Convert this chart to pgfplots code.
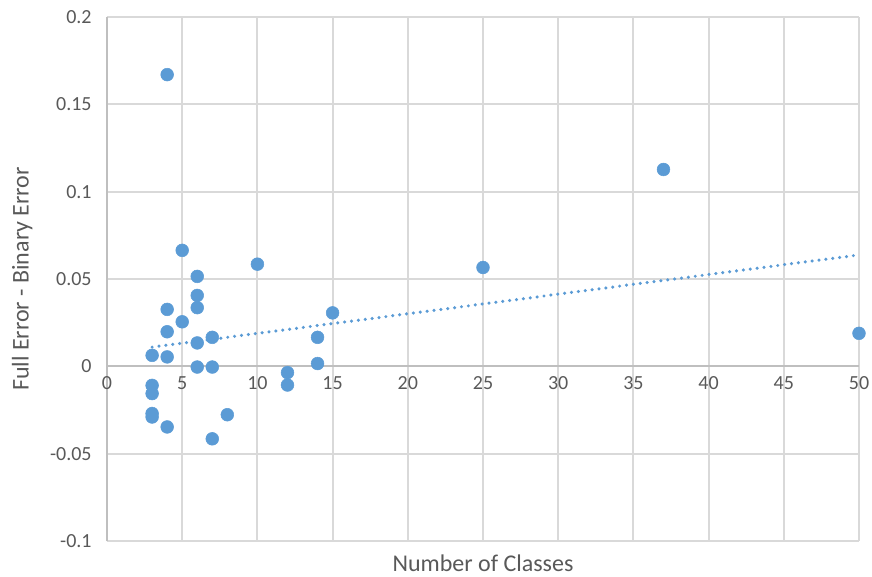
\documentclass[border=0pt]{standalone}
\usepackage{pgfplots}
\pgfplotsset{compat=1.18}
\usepackage{fontspec}
\setmainfont{Carlito}
\definecolor{mk}{HTML}{5B9BD5}
\definecolor{gr}{HTML}{D9D9D9}
\definecolor{ax}{HTML}{BFBFBF}
\definecolor{tx}{HTML}{595959}
\begin{document}
\begin{tikzpicture}
\begin{axis}[
  scale only axis, width=564pt, height=393pt,
  xmin=0, xmax=50, ymin=-0.1, ymax=0.2,
  xtick={0,5,...,50},
  ytick={-0.1,-0.05,0,0.05,0.1,0.15,0.2},
  yticklabels={-0.1,-0.05,0,0.05,0.1,0.15,0.2},
  xticklabels={0,5,10,15,20,25,30,35,40,45,50},
  scaled y ticks=false,
  axis x line=middle, axis y line=left,
  hide obscured x ticks=false, hide obscured y ticks=false,
  axis line style={-, draw=ax, line width=1.5pt},
  grid=major, major grid style={draw=gr, line width=1.5pt},
  major tick length=0pt,
  tick label style={font=\fontsize{15}{18}\selectfont, text=tx},
  xticklabel style={yshift=-4pt},
  yticklabel style={xshift=-8pt},
  xlabel={}, ylabel={},
  clip=false,
]
\coordinate (sw) at (rel axis cs:0,0);
\addplot[only marks, mark=*, mark size=4.8pt, mark options={fill=mk, draw=mk}] coordinates {
(4,0.167) (37,0.1127) (50,0.0189) (25,0.0566) (10,0.0585) (15,0.0306)
(14,0.0166) (14,0.0016) (12,-0.0036) (12,-0.0107) (8,-0.0277) (7,-0.0415)
(7,-0.0004) (7,0.0166) (6,0.0515) (6,0.0406) (6,0.0336) (6,0.0134) (6,-0.0004)
(5,0.0664) (5,0.0255) (4,0.0326) (4,0.0198) (4,0.0054) (4,-0.0347)
(3,0.0063) (3,-0.0109) (3,-0.0156) (3,-0.0270) (3,-0.0290)
};
\addplot[draw=mk, line width=2.6pt, dash pattern=on 0pt off 5.2pt, line cap=round] coordinates {(3,0.0110) (50,0.0638)};
\node[font=\fontsize{18}{21}\selectfont, text=tx, rotate=90] at ([xshift=-63.6pt]rel axis cs:0,0.5) {Full Error - Binary Error};
\node[font=\fontsize{18}{21}\selectfont, text=tx] at ([yshift=-17pt]rel axis cs:0.5,0) {Number of Classes};
\end{axis}
\pgfresetboundingbox
\path (sw) ++(-80.25pt,-26.25pt) rectangle ++(654pt,432pt);
\end{tikzpicture}
\end{document}
